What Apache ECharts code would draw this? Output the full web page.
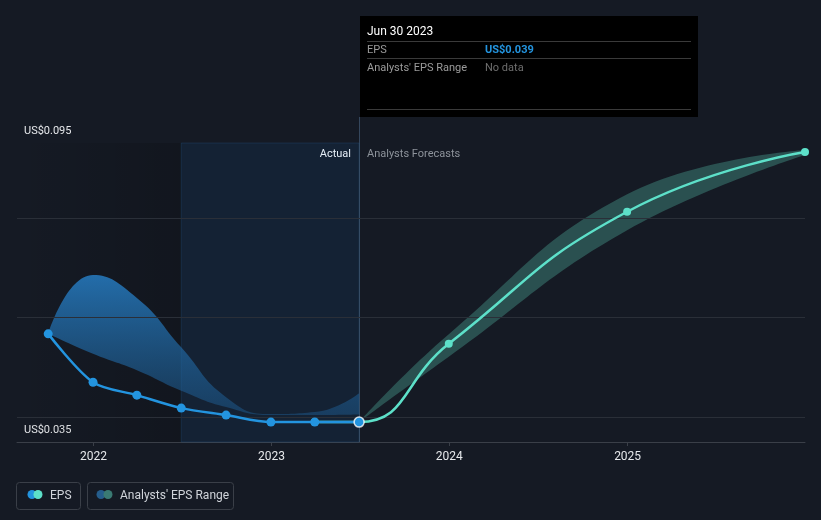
<!DOCTYPE html>
<html>
<head>
<meta charset="utf-8">
<script src="https://cdn.jsdelivr.net/npm/echarts@6/dist/echarts.min.js"></script>
<style>
html,body{margin:0;padding:0;background:#151a24;}
#chart{width:821px;height:520px;}
</style>
</head>
<body>
<div id="chart"></div>
<script>
// ---- data ----
const actualDates = ['2021-09-30','2021-12-31','2022-03-31','2022-06-30','2022-09-30','2022-12-31','2023-03-31','2023-06-30'];
const actualEps   = [0.0567, 0.047, 0.0444, 0.0418, 0.0404, 0.039, 0.039, 0.039];
const pastRangeLow  = [0.0567, 0.0527, 0.0494, 0.0453, 0.0420, 0.0404, 0.0404, 0.0405];
const pastRangeHigh = [0.0567, 0.0685, 0.0639, 0.0540, 0.0440, 0.0406, 0.0410, 0.0448];
const forecastDates = ['2023-03-31','2023-06-30','2023-12-31','2024-12-31','2025-12-31'];
const forecastEps   = [0.039, 0.039, 0.0547, 0.0812, 0.0932];
const bandDates     = ['2023-06-30','2023-12-31','2024-12-31','2025-12-31'];
const forecastLow   = [0.039, 0.0521, 0.0775, 0.0926];
const forecastHigh  = [0.039, 0.0566, 0.0847, 0.0936];
const yTickValues = [0.035, 0.095];
const yTickLabels = ['US$0.035', 'US$0.095'];
const gridValues = [0.04, 0.06, 0.08, 0.095];
const xMin = '2021-07-28';
const xMax = '2025-12-31';
const pastYearStart = '2022-06-30';
const todayDate = '2023-06-30';
const tipTitle = 'Jun 30 2023';
const tipEps = 'US$0.039';
const tipRange = 'No data';

const FONT = 'Roboto, "Noto Sans", sans-serif';
const pair = (d, v) => d.map((x, i) => [x, v[i]]);
const diff = (hi, lo) => hi.map((h, i) => +(h - lo[i]).toFixed(6));

const chart = echarts.init(document.getElementById('chart'));
const option = {
  backgroundColor: '#151a24',
  animation: false,
  textStyle: {fontFamily: FONT},
  grid: {left: 17, right: 16, top: 143, bottom: 78, containLabel: false},
  xAxis: {
    type: 'time', min: xMin, max: xMax,
    minInterval: 365 * 24 * 3600 * 1000,
    axisLine: {show: true, lineStyle: {color: '#3a3f48', width: 1}},
    axisTick: {show: true, length: 4, lineStyle: {color: '#3a3f48'}},
    axisLabel: {formatter: '{yyyy}', color: '#e6e8eb', fontSize: 12, margin: 9, fontFamily: FONT},
    splitLine: {show: false}
  },
  yAxis: {
    type: 'value', min: 0.035, max: 0.095, interval: 0.005,
    axisLine: {show: false}, axisTick: {show: false}, splitLine: {show: false},
    axisLabel: {
      inside: true, margin: 7, verticalAlign: 'bottom', padding: [0, 0, 6, 0],
      color: '#e6e8eb', fontSize: 11, fontFamily: FONT, showMaxLabel: true, showMinLabel: true,
      formatter: v => {
        for (let i = 0; i < yTickValues.length; i++) if (Math.abs(v - yTickValues[i]) < 1e-9) return yTickLabels[i];
        return '';
      }
    }
  },
  series: [
    {
      name: 'bg', type: 'line', data: [], silent: true,
      markArea: {
        silent: true,
        data: [
          [{xAxis: xMin, itemStyle: {color: new echarts.graphic.LinearGradient(0, 0, 1, 0, [
              {offset: 0, color: 'rgba(0,0,0,0)'}, {offset: 1, color: 'rgba(0,0,0,0.16)'}])}},
           {xAxis: pastYearStart}],
          [{xAxis: pastYearStart, itemStyle: {color: 'rgba(20,100,180,0.11)', borderColor: 'rgba(40,100,150,0.25)', borderWidth: 1}},
           {xAxis: todayDate}]
        ]
      },
      markLine: {
        silent: true, symbol: 'none', label: {show: false},
        data: gridValues.map((v, i) => ({yAxis: v, lineStyle: {color: i === gridValues.length - 1 ? '#3c414a' : '#2a2f38', width: 1, type: 'solid'}}))
      }
    },
    {
      name: 'pastLow', type: 'line', stack: 'past', stackStrategy: 'all', smooth: 0.5,
      data: pair(actualDates, pastRangeLow), symbol: 'none', lineStyle: {width: 0, opacity: 0}, silent: true
    },
    {
      name: "Analysts' EPS Range", type: 'line', stack: 'past', stackStrategy: 'all', smooth: 0.5,
      data: pair(actualDates, diff(pastRangeHigh, pastRangeLow)), symbol: 'none',
      lineStyle: {width: 0, opacity: 0},
      areaStyle: {opacity: 1, color: new echarts.graphic.LinearGradient(0, 0, 0, 1, [
        {offset: 0, color: 'rgba(38,124,194,0.85)'}, {offset: 1, color: 'rgba(30,95,150,0.45)'}])}
    },
    {
      name: 'fcLow', type: 'line', stack: 'fc', smooth: 0.45,
      data: pair(bandDates, forecastLow), symbol: 'none', lineStyle: {width: 0, opacity: 0}, silent: true
    },
    {
      name: 'fcRange', type: 'line', stack: 'fc', smooth: 0.45,
      data: pair(bandDates, diff(forecastHigh, forecastLow)), symbol: 'none',
      lineStyle: {width: 0, opacity: 0},
      areaStyle: {opacity: 1, color: 'rgba(84,190,170,0.33)'}
    },
    {
      name: 'EPS forecast', type: 'line', smooth: 0.5,
      data: pair(forecastDates, forecastEps),
      symbol: 'circle', symbolSize: 8, showSymbol: true,
      lineStyle: {color: '#5de0c9', width: 2.5},
      itemStyle: {color: '#5de0c9'},
      z: 5
    },
    {
      name: 'EPS', type: 'line', smooth: 0.3,
      data: pair(actualDates, actualEps),
      symbol: 'circle', symbolSize: 9,
      lineStyle: {color: '#2394df', width: 2.5},
      itemStyle: {color: '#2394df'},
      z: 6
    },
    {
      name: 'today', type: 'scatter', data: [[todayDate, actualEps[actualEps.length - 1]]],
      symbol: 'circle', symbolSize: 10,
      itemStyle: {color: '#2394df', borderColor: '#ffffff', borderWidth: 1.5}, z: 7, silent: true
    }
  ]
};
chart.setOption(option);

const px = chart.convertToPixel({xAxisIndex: 0}, todayDate);
const yTop = chart.convertToPixel({yAxisIndex: 0}, 0.095);
const yBot = chart.convertToPixel({yAxisIndex: 0}, 0.035);
const tipX = Math.round(px) + 1, tipY = 16, tipW = 338, tipH = 101;
chart.setOption({
  graphic: [
    {type: 'line', silent: true, z: 1, shape: {x1: Math.round(px) + 0.5, y1: tipY + tipH, x2: Math.round(px) + 0.5, y2: yBot},
     style: {stroke: 'rgba(80,110,140,0.55)', lineWidth: 1}},
    {type: 'text', silent: true, position: [Math.round(px) - 8, yTop + 11],
     style: {x: 0, y: 0, text: 'Actual', fill: '#ffffff', fontSize: 11, fontFamily: FONT, align: 'right', verticalAlign: 'middle'}},
    {type: 'text', silent: true, position: [Math.round(px) + 8, yTop + 11],
     style: {x: 0, y: 0, text: 'Analysts Forecasts', fill: '#8d939b', fontSize: 11, fontFamily: FONT, verticalAlign: 'middle'}},
    {type: 'group', position: [tipX, tipY], children: [
      {type: 'rect', shape: {x: 0, y: 0, width: tipW, height: tipH}, style: {fill: '#000000'}},
      {type: 'text', style: {x: 7, y: 16, text: tipTitle, fill: '#ffffff', fontSize: 12, fontFamily: FONT, verticalAlign: 'middle'}},
      {type: 'line', shape: {x1: 7, y1: 25.5, x2: tipW - 7, y2: 25.5}, style: {stroke: '#3a3a3a', lineWidth: 1}},
      {type: 'text', style: {x: 7, y: 34, text: 'EPS', fill: '#9b9b9b', fontSize: 11, fontFamily: FONT, verticalAlign: 'middle'}},
      {type: 'text', style: {x: 125, y: 34, text: tipEps, fill: '#2394df', fontSize: 11, fontWeight: 'bold', fontFamily: FONT, verticalAlign: 'middle'}},
      {type: 'line', shape: {x1: 7, y1: 42.5, x2: tipW - 7, y2: 42.5}, style: {stroke: '#3a3a3a', lineWidth: 1}},
      {type: 'text', style: {x: 7, y: 52, text: "Analysts' EPS Range", fill: '#9b9b9b', fontSize: 11, fontFamily: FONT, verticalAlign: 'middle'}},
      {type: 'text', style: {x: 125, y: 52, text: tipRange, fill: '#6e6e6e', fontSize: 11, fontFamily: FONT, verticalAlign: 'middle'}},
      {type: 'line', shape: {x1: 7, y1: 93.5, x2: tipW - 7, y2: 93.5}, style: {stroke: '#3a3a3a', lineWidth: 1}}
    ]},
    {type: 'group', position: [16, 482], children: [
      {type: 'rect', shape: {x: 0.5, y: 0.5, width: 64, height: 27, r: 3}, style: {fill: 'none', stroke: '#3a3f48', lineWidth: 1}},
      {type: 'circle', shape: {cx: 16, cy: 12.5, r: 4.5}, style: {fill: '#2394df'}},
      {type: 'circle', shape: {cx: 22, cy: 12.5, r: 4.5}, style: {fill: '#5de0c9'}},
      {type: 'text', style: {x: 34, y: 13.5, text: 'EPS', fill: '#d0d4da', fontSize: 12, fontFamily: FONT, verticalAlign: 'middle'}},
      {type: 'rect', shape: {x: 71.5, y: 0.5, width: 146, height: 27, r: 3}, style: {fill: 'none', stroke: '#3a3f48', lineWidth: 1}},
      {type: 'circle', shape: {cx: 85, cy: 12.5, r: 4.5}, style: {fill: '#255d8c'}},
      {type: 'circle', shape: {cx: 92, cy: 12.5, r: 4.5}, style: {fill: '#3a7a73'}},
      {type: 'text', style: {x: 104, y: 13.5, text: "Analysts' EPS Range", fill: '#d0d4da', fontSize: 12, fontFamily: FONT, verticalAlign: 'middle'}}
    ]}
  ]
});
</script>
</body>
</html>
